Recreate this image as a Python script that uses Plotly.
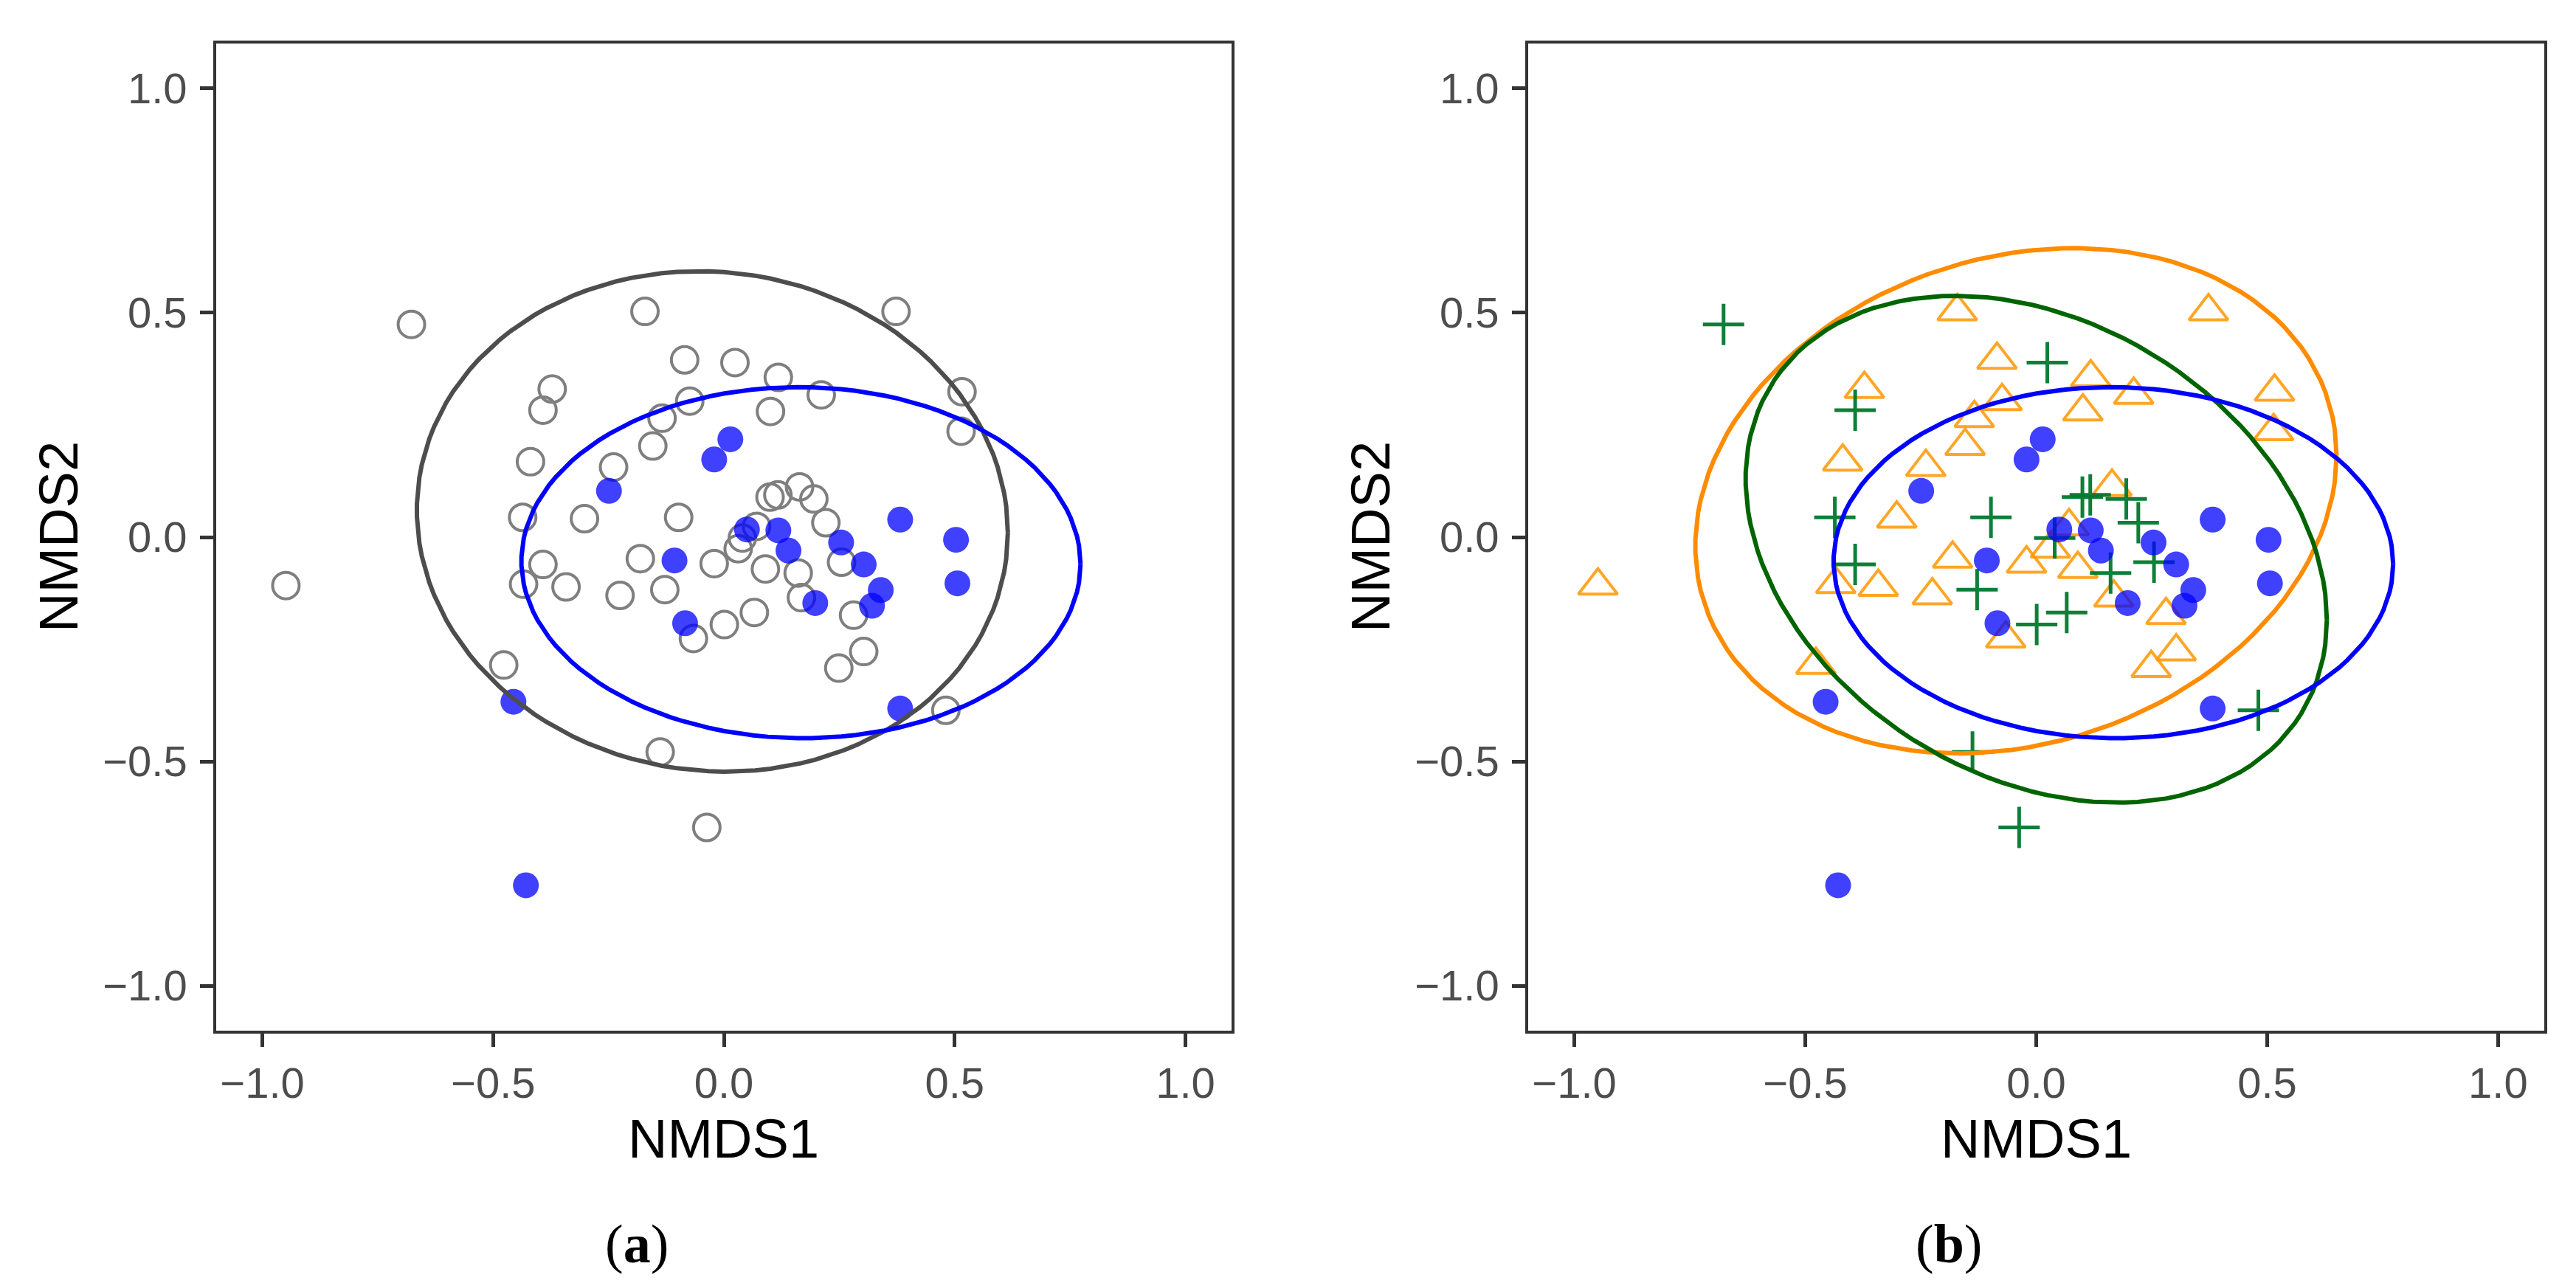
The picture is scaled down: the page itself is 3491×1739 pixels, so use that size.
import numpy as np
import plotly.graph_objects as go

# group 1 (blue filled dots, same in both panels)
blue_x = [0.014, -0.021, -0.249, 0.382, 0.503, 0.506, 0.050, 0.118, 0.140, -0.107,
          0.254, 0.303, 0.340, 0.321, 0.198, -0.084, -0.456, 0.382, -0.429]
blue_y = [0.218, 0.173, 0.103, 0.039, -0.006, -0.103, 0.017, 0.015, -0.030, -0.052,
          -0.012, -0.061, -0.118, -0.153, -0.147, -0.192, -0.367, -0.382, -0.776]

# group 2 (green crosses in b)
green_x = [-0.677, 0.024, -0.392, 0.100, 0.117, 0.195, -0.436, -0.098, 0.221, 0.040,
           -0.392, 0.161, 0.255, -0.128, 0.066, 0.001, 0.481, -0.138, -0.037]
green_y = [0.474, 0.389, 0.283, 0.089, 0.094, 0.085, 0.044, 0.044, 0.032, -0.002,
           -0.061, -0.080, -0.056, -0.117, -0.168, -0.195, -0.386, -0.479, -0.647]

# group 3 (orange triangles in b)
orange_x = [-0.171, 0.373, -0.085, 0.118, 0.211, 0.516, -0.372, -0.074, -0.134, 0.101,
            0.514, -0.154, -0.419, -0.239, 0.164, -0.302, 0.071, 0.031, -0.949, -0.434,
            -0.342, -0.181, -0.021, 0.090, -0.225, 0.168, 0.281, -0.066, 0.303, 0.249,
            -0.477]
orange_y = [0.503, 0.503, 0.395, 0.356, 0.317, 0.324, 0.330, 0.303, 0.265, 0.280,
            0.236, 0.203, 0.168, 0.156, 0.112, 0.041, 0.024, -0.026, -0.108, -0.105,
            -0.111, -0.048, -0.059, -0.071, -0.130, -0.135, -0.174, -0.226, -0.255, -0.292,
            -0.285]

# ellipse parameters: centre and covariance-like shape
ell_names = ['gray', 'blue', 'orange', 'green']
ell_cx = [-0.025, 0.167, -0.044, 0.000]
ell_cy = [0.035, -0.057, 0.081, -0.027]
ell_sxx = [0.410, 0.367, 0.482, 0.396]
ell_syy = [0.311, 0.153, 0.317, 0.319]
ell_sxy = [-0.016, -0.002, 0.070, -0.099]

tick_vals = [-1.0, -0.5, 0.0, 0.5, 1.0]
tick_text = ['\u22121.0', '\u22120.5', '0.0', '0.5', '1.0']

W, H = 3491, 1739
PANEL_A = (285, 1661)
PANEL_B = (2063, 3440)


def ellipse_path(i, n=120):
    t = np.linspace(0, 2 * np.pi, n)
    l11 = np.sqrt(ell_sxx[i])
    l21 = ell_sxy[i] / l11
    l22 = np.sqrt(ell_syy[i] - l21 ** 2)
    x = ell_cx[i] + l11 * np.cos(t)
    y = ell_cy[i] + l21 * np.cos(t) + l22 * np.sin(t)
    return x, y


def add_ellipse(fig, name, color, xa, ya):
    x, y = ellipse_path(ell_names.index(name))
    fig.add_trace(go.Scatter(x=x, y=y, mode='lines', xaxis=xa, yaxis=ya,
                             line=dict(color=color, width=6), hoverinfo='skip'))


def add_blue(fig, xa, ya):
    fig.add_trace(go.Scatter(x=blue_x, y=blue_y, mode='markers', xaxis=xa, yaxis=ya,
                             marker=dict(symbol='circle', size=35,
                                         color='rgba(0,0,255,0.75)', line=dict(width=0))))


def build_figure():
    fig = go.Figure()

    # panel a
    gray_x = green_x + orange_x
    gray_y = green_y + orange_y
    fig.add_trace(go.Scatter(x=gray_x, y=gray_y, mode='markers', xaxis='x', yaxis='y',
                             marker=dict(symbol='circle-open', size=36,
                                         color='#7f7f7f', line=dict(width=4))))
    add_blue(fig, 'x', 'y')
    add_ellipse(fig, 'gray', '#4d4d4d', 'x', 'y')
    add_ellipse(fig, 'blue', '#0000ff', 'x', 'y')

    # panel b
    fig.add_trace(go.Scatter(x=orange_x, y=orange_y, mode='markers', xaxis='x2', yaxis='y2',
                             marker=dict(symbol='triangle-up-open', size=46,
                                         color='rgba(255,150,0,0.85)', line=dict(width=4))))
    fig.add_trace(go.Scatter(x=green_x, y=green_y, mode='markers', xaxis='x2', yaxis='y2',
                             marker=dict(symbol='cross-thin-open', size=40,
                                         color='rgba(0,120,45,0.95)', line=dict(width=5))))
    add_blue(fig, 'x2', 'y2')
    add_ellipse(fig, 'orange', '#ff8c00', 'x2', 'y2')
    add_ellipse(fig, 'green', '#006400', 'x2', 'y2')
    add_ellipse(fig, 'blue', '#0000ff', 'x2', 'y2')

    axis_style = dict(range=[-1.1, 1.1], tickvals=tick_vals, ticktext=tick_text,
                      showgrid=False, zeroline=False, showline=True, mirror=True,
                      linecolor='#333333', linewidth=3.5, ticks='outside', ticklen=18,
                      tickwidth=5, tickcolor='#333333',
                      tickfont=dict(family='Liberation Sans', size=58, color='#4d4d4d'))

    y0, y1 = 1 - 1389 / H, 1 - 51 / H
    fig.update_layout(
        width=W, height=H, margin=dict(l=0, r=0, t=0, b=0),
        plot_bgcolor='white', paper_bgcolor='white', showlegend=False,
        xaxis=dict(domain=[PANEL_A[0] / W, PANEL_A[1] / W], anchor='y',
                   ticklabelstandoff=0, **axis_style),
        yaxis=dict(domain=[y0, y1], anchor='x', ticklabelstandoff=6, **axis_style),
        xaxis2=dict(domain=[PANEL_B[0] / W, PANEL_B[1] / W], anchor='y2',
                    ticklabelstandoff=0, **axis_style),
        yaxis2=dict(domain=[y0, y1], anchor='x2', ticklabelstandoff=6, **axis_style),
    )

    title_font = dict(family='Liberation Sans', size=74, color='black')
    cap_font = dict(family='Liberation Serif', size=74, color='black')
    notes = []
    for (left, right), cap in [(PANEL_A, '(<b>a</b>)'), (PANEL_B, '(<b>b</b>)')]:
        notes.append(dict(text='NMDS1', x=(left + right) / 2 / W, y=1 - 1535 / H,
                          xref='paper', yref='paper', showarrow=False, font=title_font,
                          xanchor='center', yanchor='middle'))
        notes.append(dict(text='NMDS2', x=(left - 214) / W, y=1 - 720 / H, textangle=-90,
                          xref='paper', yref='paper', showarrow=False, font=title_font,
                          xanchor='center', yanchor='middle'))
        notes.append(dict(text=cap, x=(left + 570) / W, y=1 - 1678 / H,
                          xref='paper', yref='paper', showarrow=False, font=cap_font,
                          xanchor='center', yanchor='middle'))
    fig.update_layout(annotations=notes)
    return fig


def main():
    fig = build_figure()
    fig.write_html('out.html')


if __name__ == '__main__':
    main()
